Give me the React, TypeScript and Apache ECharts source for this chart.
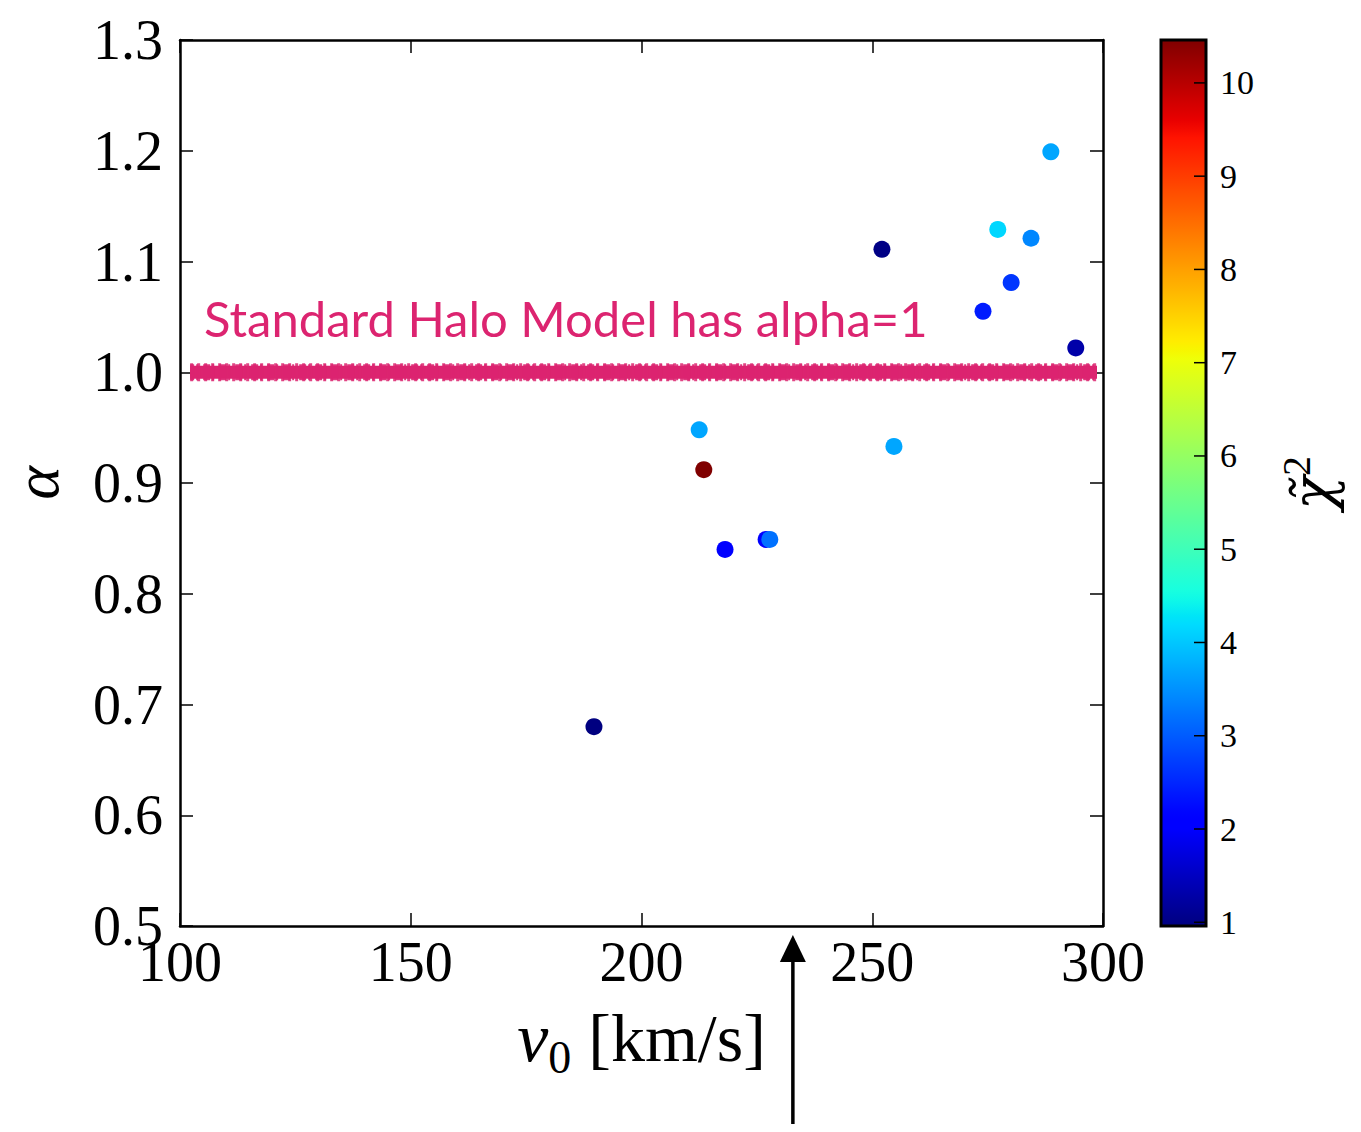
import React, { useEffect, useRef } from "react";
import * as echarts from "echarts";

// ---- data ----
const V0 = [189.7, 212.5, 213.5, 218.1, 227.0, 227.8, 252.1, 254.7, 274.0, 277.2, 280.1, 284.4, 288.7, 294.1];
const ALPHA = [0.68, 0.948, 0.912, 0.84, 0.849, 0.849, 1.111, 0.933, 1.055, 1.129, 1.081, 1.121, 1.199, 1.022];
const CHI2 = [0.96, 3.7, 10.46, 2.05, 2.0, 3.2, 1.0, 3.7, 2.4, 4.15, 2.65, 3.4, 3.7, 1.3];
const CBAR_TICKS = [1, 2, 3, 4, 5, 6, 7, 8, 9, 10];
const CHI2_MIN = 0.96;
const CHI2_MAX = 10.46;
const SHM_V0 = [102.2, 298.7];
const SHM_ALPHA = 1.0;
const SHM_LABEL = "Standard Halo Model has alpha=1";
const SHM_LABEL_POS = [105.2, 1.049];
const ARROW_V0 = 232.8;

// matplotlib "jet" colormap
const JET_R = [[0, 0], [0.35, 0], [0.66, 1], [0.89, 1], [1, 0.5]];
const JET_G = [[0, 0], [0.125, 0], [0.375, 1], [0.64, 1], [0.91, 0], [1, 0]];
const JET_B = [[0, 0.5], [0.11, 1], [0.34, 1], [0.65, 0], [1, 0]];
function seg(pts: number[][], t: number) {
  for (let i = 1; i < pts.length; i++) {
    if (t <= pts[i][0]) {
      const [x0, y0] = pts[i - 1];
      const [x1, y1] = pts[i];
      return y0 + ((t - x0) / (x1 - x0)) * (y1 - y0);
    }
  }
  return pts[pts.length - 1][1];
}
function jetColors(n: number) {
  const out: string[] = [];
  for (let i = 0; i < n; i++) {
    const t = i / (n - 1);
    const r = Math.round(seg(JET_R, t) * 255);
    const g = Math.round(seg(JET_G, t) * 255);
    const b = Math.round(seg(JET_B, t) * 255);
    out.push(`rgb(${r},${g},${b})`);
  }
  return out;
}

const SERIF = "'Liberation Serif', 'DejaVu Serif', serif";
const PINK = "#dc2470";

export default function App() {
  const ref = useRef<HTMLDivElement>(null);
  useEffect(() => {
    if (!ref.current) return;
    const chart = echarts.init(ref.current, null, { renderer: "svg" });
    const points = V0.map((v, i) => [v, ALPHA[i], CHI2[i]]);
    const axisLine = { show: true, lineStyle: { color: "#000", width: 2.5 } };
    const tick = { show: true, inside: true, length: 13, lineStyle: { color: "#000", width: 1.5 } };
    const labelStyle = { color: "#000", fontFamily: SERIF, fontSize: 56 };

    chart.setOption({
      animation: false,
      backgroundColor: "#fff",
      grid: [
        { left: 180, top: 40, width: 923, height: 886, containLabel: false, outerBoundsMode: "none" },
        { left: 1161, top: 40, width: 45, height: 886, containLabel: false, outerBoundsMode: "none" },
      ],
      xAxis: [
        {
          gridIndex: 0, type: "value", min: 100, max: 300, interval: 50, position: "bottom",
          axisLine, axisTick: tick, splitLine: { show: false },
          axisLabel: { ...labelStyle, margin: 8 },
          name: "{i|v}{s|0}{n| [km/s]}",
          nameLocation: "middle",
          nameGap: 76,
          nameTextStyle: {
            rich: {
              i: { fontFamily: SERIF, fontStyle: "italic", fontSize: 70, color: "#000", verticalAlign: "bottom" },
              s: { fontFamily: SERIF, fontSize: 46, color: "#000", verticalAlign: "bottom", padding: [0, 0, -8, 0] },
              n: { fontFamily: SERIF, fontSize: 68, color: "#000", verticalAlign: "bottom" },
            },
          },
        },
        {
          gridIndex: 0, type: "value", min: 100, max: 300, interval: 50, position: "top",
          axisLine, axisTick: tick, splitLine: { show: false }, axisLabel: { show: false },
        },
        { gridIndex: 1, type: "value", min: 0, max: 1, show: false },
      ],
      yAxis: [
        {
          gridIndex: 0, type: "value", min: 0.5, max: 1.3, interval: 0.1, position: "left",
          axisLine, axisTick: tick, splitLine: { show: false },
          axisLabel: { ...labelStyle, margin: 17, formatter: (v: number) => v.toFixed(1) },
          name: "α",
          nameLocation: "middle",
          nameGap: 112,
          nameRotate: 90,
          nameTextStyle: { fontFamily: SERIF, fontStyle: "italic", fontSize: 64, color: "#000" },
        },
        {
          gridIndex: 0, type: "value", min: 0.5, max: 1.3, interval: 0.1, position: "right",
          axisLine, axisTick: tick, splitLine: { show: false }, axisLabel: { show: false },
        },
        {
          gridIndex: 1, type: "value", min: CHI2_MIN, max: CHI2_MAX, position: "right",
          axisLine: { show: false },
          axisTick: { show: false },
          axisLabel: { show: true, customValues: CBAR_TICKS, color: "#000", fontFamily: SERIF, fontSize: 34, margin: 14 },
          splitLine: { show: false },
          name: "{c|χ̃}{s|2}",
          nameLocation: "middle",
          nameGap: 70,
          nameRotate: 90,
          nameTextStyle: {
            rich: {
              c: { fontFamily: "'DejaVu Serif', serif", fontStyle: "italic", fontSize: 56, color: "#000", verticalAlign: "bottom" },
              s: { fontFamily: SERIF, fontSize: 40, color: "#000", verticalAlign: "bottom", padding: [0, 0, 24, 0] },
            },
          },
        },
      ],
      visualMap: {
        type: "continuous",
        min: CHI2_MIN,
        max: CHI2_MAX,
        dimension: 2,
        seriesIndex: 0,
        calculable: false,
        hoverLink: false,
        left: 1161,
        top: 40,
        padding: 0,
        itemWidth: 45,
        itemHeight: 886,
        text: null,
        z: 4,
        inRange: { color: jetColors(101) },
      },
      series: [
        {
          type: "scatter",
          xAxisIndex: 0,
          yAxisIndex: 0,
          data: points,
          symbolSize: 17,
          itemStyle: { opacity: 1 },
          z: 5,
        },
        {
          type: "line",
          xAxisIndex: 0,
          yAxisIndex: 0,
          data: SHM_V0.map((v) => [v, SHM_ALPHA]),
          symbol: "none",
          lineStyle: { color: PINK, width: 13 },
          z: 3,
          silent: true,
        },
        {
          type: "line",
          xAxisIndex: 0,
          yAxisIndex: 0,
          data: SHM_V0.map((v) => [v, SHM_ALPHA]),
          symbol: "none",
          lineStyle: { color: PINK, width: 18, type: [3, 4], opacity: 0.85 },
          z: 3,
          silent: true,
        },
        {
          type: "line",
          xAxisIndex: 0,
          yAxisIndex: 0,
          data: SHM_V0.map((v) => [v, SHM_ALPHA]),
          symbol: "none",
          lineStyle: { color: PINK, width: 16, type: [7, 2, 2, 5], dashOffset: 3, opacity: 0.9 },
          z: 3,
          silent: true,
        },
        { type: "scatter", xAxisIndex: 2, yAxisIndex: 2, data: [] },
      ],
    });

    const ax = chart.convertToPixel({ xAxisIndex: 0 }, ARROW_V0) as number;
    const lbl = chart.convertToPixel({ xAxisIndex: 0, yAxisIndex: 0 }, SHM_LABEL_POS) as number[];
    const cbTicks = CBAR_TICKS.map((v) => {
      const y = chart.convertToPixel({ yAxisIndex: 2 }, v) as number;
      return {
        type: "line",
        shape: { x1: 1194, y1: y, x2: 1206, y2: y },
        style: { stroke: "#000", lineWidth: 1.5 },
        z: 100,
        silent: true,
      };
    });
    chart.setOption({
      graphic: [
        {
          type: "rect",
          shape: { x: 1161, y: 40, width: 45, height: 886 },
          style: { fill: "none", stroke: "#000", lineWidth: 3 },
          z: 100,
          silent: true,
        },
        ...cbTicks,
        {
          type: "line",
          shape: { x1: ax, y1: 1132, x2: ax, y2: 955 },
          style: { stroke: "#000", lineWidth: 3.5 },
          z: 100,
        },
        {
          type: "polygon",
          shape: { points: [[ax, 935], [ax - 13, 962], [ax + 13, 962]] },
          style: { fill: "#000" },
          z: 100,
        },
        {
          type: "text",
          x: lbl[0],
          y: lbl[1],
          style: {
            text: SHM_LABEL,
            fill: PINK,
            fontFamily: "Lato, 'Open Sans', sans-serif",
            fontSize: 49,
            align: "left",
            verticalAlign: "middle",
          },
          z: 100,
        },
      ],
    });
    return () => chart.dispose();
  }, []);
  return <div ref={ref} style={{ width: 1361, height: 1132, margin: -8 }} />;
}
